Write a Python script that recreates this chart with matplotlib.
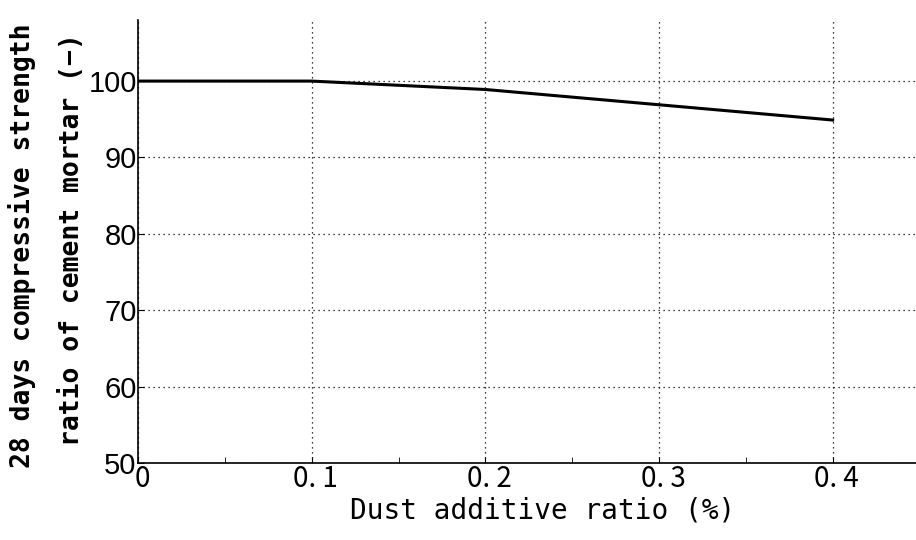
import numpy as np
import matplotlib.pyplot as plt
from matplotlib.transforms import ScaledTranslation

# Strength ratio of mortar vs dust additive
dust_ratio = [0.0, 0.1, 0.2, 0.3, 0.4]
strength_ratio = [100.0, 100.0, 98.9, 96.9, 94.9]

xticks = [0, 0.1, 0.2, 0.3, 0.4]
xtick_labels = ['0', '0. 1', '0. 2', '0. 3', '0. 4']
yticks = [50, 60, 70, 80, 90, 100]

fig = plt.figure(figsize=(9.16, 5.4), dpi=100)
ax = fig.add_axes([0.1507, 0.1426, 0.8493, 0.8204])

ax.plot(dust_ratio, strength_ratio, color='black', linewidth=2.2)

ax.set_xlim(0, 0.448)
ax.set_ylim(50, 108)
ax.set_xticks(xticks)
ax.set_xticklabels(xtick_labels, family=['Noto Sans CJK JP', 'DejaVu Sans'], fontsize=20)
ax.set_yticks(yticks)
ax.set_yticklabels([str(v) for v in yticks], family='Liberation Sans', fontsize=21)
ax.set_xticks(np.arange(0.05, 0.45, 0.1), minor=True)
ax.tick_params(which='both', direction='in', length=4)
ax.tick_params(axis='y', pad=1)
ax.tick_params(axis='x', pad=1)

# nudge x tick labels a little to the right
shift = ScaledTranslation(4 / 100, 0, fig.dpi_scale_trans)
for lbl in ax.get_xticklabels():
    lbl.set_transform(lbl.get_transform() + shift)

ax.grid(True, linestyle=(0, (1, 3)), color='black', linewidth=0.9)
for s in ['top', 'right']:
    ax.spines[s].set_visible(False)
ax.spines['left'].set_linewidth(1.2)
ax.spines['bottom'].set_linewidth(1.2)

ax.set_xlabel('Dust additive ratio (%)', family='DejaVu Sans Mono',
              fontsize=20, labelpad=2)
ax.xaxis.set_label_coords(0.52, -0.075)

# two-line y label, set as separate rotated texts
ylab_kw = dict(family='DejaVu Sans Mono', fontweight='bold', fontsize=19,
               rotation=90, ha='center')
fig.text(22 / 916, 1 - 468 / 540, '28 days compressive strength', va='bottom', **ylab_kw)
fig.text(72 / 916, 1 - 240 / 540, 'ratio of cement mortar (\u2212)', va='center', **ylab_kw)

fig.savefig('out.png', dpi=100)
